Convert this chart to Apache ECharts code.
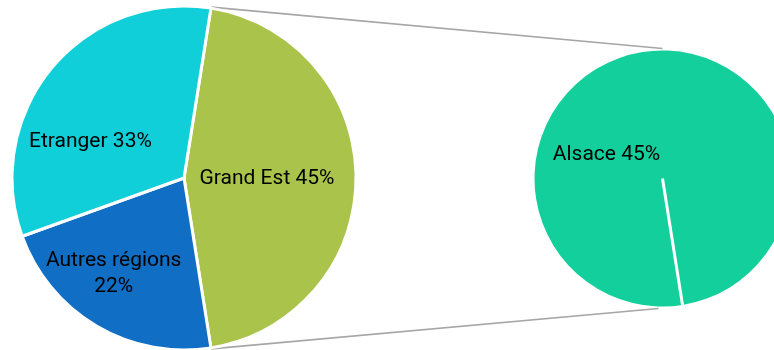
<!DOCTYPE html>
<html>
<head>
<meta charset="utf-8">
<script src="https://cdn.jsdelivr.net/npm/echarts@6/dist/echarts.min.js"></script>
<style>html,body{margin:0;padding:0;background:#fff;}#chart{width:774px;height:350px;}</style>
</head>
<body>
<div id="chart"></div>
<script>
// ---- data ----
const categories = ['Grand Est', 'Autres régions', 'Etranger'];
const shares = [45, 22, 33];
const subCategories = ['Alsace'];
const subShares = [45];

// ---- styles / layout ----
const colors = ['#A9C34B', '#106EC5', '#10CFD9'];
const subColors = ['#13CF9B'];
const mainCenter = [184, 178];
const mainR = 172;
const subCenter = [662.5, 178.5];
const subR = 128;
const fontFamily = "Roboto, 'Liberation Sans', Arial, sans-serif";
const mainShift = [[-6, 1], [-25, 19], [-25, 20]];
const subShift = [[-56, -24]];
const wrapLabel = [false, true, false];

const total = shares.reduce((a, b) => a + b, 0);
// first slice (Grand Est) centred on the right horizontal
const startAngle = shares[0] / total * 360 / 2;
const subStart = -startAngle;

const chart = echarts.init(document.getElementById('chart'), null, {renderer: 'canvas'});

const mainData = categories.map((c, i) => ({
  name: c, value: shares[i],
  itemStyle: {color: colors[i]}
}));
const subData = subCategories.map((c, i) => ({
  name: c, value: subShares[i], itemStyle: {color: subColors[i]}
}));

const rad = Math.PI / 180;
const gTop = [mainCenter[0] + (mainR + 1) * Math.cos(startAngle * rad), mainCenter[1] - (mainR + 1) * Math.sin(startAngle * rad)];
const gBot = [mainCenter[0] + (mainR + 1) * Math.cos(-startAngle * rad), mainCenter[1] - (mainR + 1) * Math.sin(-startAngle * rad)];
const sTop = [subCenter[0], subCenter[1] - subR - 2];
const sBot = [subCenter[0] - 4, subCenter[1] + subR + 2];
const sEdge = [subCenter[0] + (subR + 1) * Math.cos(subStart * rad), subCenter[1] - (subR + 1) * Math.sin(subStart * rad)];

const lineStyle = {stroke: '#A6A6A6', lineWidth: 1.6};

chart.setOption({
  animation: false,
  backgroundColor: '#fff',
  graphic: [
    {type: 'line', z: 0, shape: {x1: gTop[0], y1: gTop[1], x2: sTop[0], y2: sTop[1]}, style: lineStyle},
    {type: 'line', z: 0, shape: {x1: gBot[0], y1: gBot[1], x2: sBot[0], y2: sBot[1]}, style: lineStyle},
    {type: 'line', z: 100, shape: {x1: subCenter[0], y1: subCenter[1], x2: sEdge[0], y2: sEdge[1]}, style: {stroke: '#fff', lineWidth: 3}}
  ],
  series: [
    {
      type: 'pie', center: mainCenter, radius: mainR,
      startAngle: startAngle, clockwise: true,
      silent: true,
      itemStyle: {borderColor: '#fff', borderWidth: 3},
      label: {
        show: true, position: 'inside', color: '#000',
        fontFamily: fontFamily, fontSize: 21, lineHeight: 26, align: 'center',
        formatter: p => p.name + (wrapLabel[p.dataIndex] ? '\n' : ' ') + p.value + '%'
      },
      labelLine: {show: false},
      labelLayout: p => ({dx: mainShift[p.dataIndex][0], dy: mainShift[p.dataIndex][1]}),
      data: mainData
    },
    {
      type: 'pie', center: subCenter, radius: subR,
      startAngle: subStart, clockwise: true,
      silent: true,
      itemStyle: {borderColor: '#fff', borderWidth: 0},
      label: {
        show: true, position: 'center', color: '#000',
        fontFamily: fontFamily, fontSize: 21,
        formatter: p => p.name + ' ' + p.value + '%'
      },
      labelLine: {show: false},
      labelLayout: p => ({dx: subShift[p.dataIndex][0], dy: subShift[p.dataIndex][1]}),
      data: subData
    }
  ]
});
</script>
</body>
</html>
